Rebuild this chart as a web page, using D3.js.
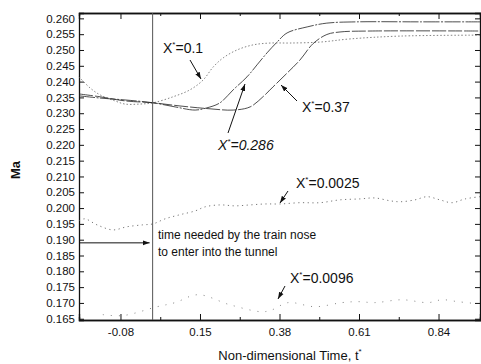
<!DOCTYPE html>
<html>
<head>
<meta charset="utf-8">
<script src="https://cdn.jsdelivr.net/npm/d3@7"></script>
<style>
  body { margin: 0; background: #fff; }
  text { font-family: "Liberation Sans", Arial, sans-serif; fill: #111; }
</style>
</head>
<body>
<svg id="chart" width="481" height="364"></svg>
<script>
// [t*, Ma]
var serie01 = [[-0.200,0.2415],[-0.168,0.2380],[-0.139,0.2358],[-0.096,0.2339],[-0.067,0.2329],[-0.024,0.2329],
  [0.014,0.2333],[0.072,0.2352],[0.121,0.2374],[0.159,0.2405],[0.188,0.2446],[0.217,0.2475],[0.257,0.2500],
  [0.303,0.2516],[0.353,0.2522],[0.410,0.2522],[0.497,0.2525],[0.584,0.2535],[0.729,0.2544],[0.960,0.2547]];
var serie0286 = [[-0.200,0.2355],[-0.139,0.2348],[-0.067,0.2342],[0.014,0.2333],[0.078,0.2320],[0.136,0.2310],
  [0.170,0.2317],[0.208,0.2333],[0.246,0.2374],[0.286,0.2415],[0.315,0.2453],[0.344,0.2491],[0.373,0.2525],
  [0.402,0.2554],[0.460,0.2573],[0.517,0.2585],[0.604,0.2589],[0.787,0.2589],[0.960,0.2589]];
var serie037 = [[-0.200,0.2361],[-0.139,0.2352],[-0.067,0.2339],[0.014,0.2333],[0.092,0.2323],[0.179,0.2314],
  [0.246,0.2310],[0.295,0.2320],[0.332,0.2352],[0.361,0.2383],[0.402,0.2427],[0.439,0.2468],[0.477,0.2520],
  [0.517,0.2549],[0.555,0.2557],[0.642,0.2560],[0.960,0.2560]];
var serie00025 = [[-0.200,0.1960],[-0.183,0.1966],[-0.148,0.1947],[-0.102,0.1931],[-0.061,0.1941],[-0.015,0.1947],
  [0.014,0.1950],[0.049,0.1966],[0.092,0.1979],[0.136,0.1991],[0.165,0.2004],[0.208,0.2010],[0.251,0.2007],
  [0.295,0.2010],[0.338,0.2013],[0.381,0.2013],[0.439,0.2017],[0.497,0.2017],[0.555,0.2026],[0.613,0.2029],
  [0.656,0.2032],[0.700,0.2023],[0.729,0.2020],[0.772,0.2026],[0.807,0.2036],[0.844,0.2026],[0.879,0.2017],
  [0.917,0.2029],[0.960,0.2036]];
var serie00096 = [[-0.131,0.1663],[-0.073,0.1660],[0.026,0.1688],[0.078,0.1701],[0.144,0.1726],[0.237,0.1694],
  [0.329,0.1672],[0.358,0.1678],[0.405,0.1701],[0.483,0.1688],[0.561,0.1701],[0.607,0.1704],[0.656,0.1701],
  [0.734,0.1710],[0.810,0.1701],[0.850,0.1710],[0.896,0.1704],[0.946,0.1698]];

var xTicks = [-0.08, 0.15, 0.38, 0.61, 0.84];
var xMinor = [0.035, 0.265, 0.495, 0.725];
var yTicks = d3.range(20).map(function(i) { return +(0.165 + i * 0.005).toFixed(3); });
var tEnter = 0.013;     // vertical line
var arrowMa = 0.189;

var svg = d3.select("#chart");
var x = d3.scaleLinear().domain([-0.2, 0.96]).range([79, 480]);
var y = d3.scaleLinear().domain([0.1646, 0.2617]).range([320, 13]);

var line = d3.line()
    .x(function(d) { return x(d[0]); })
    .y(function(d) { return y(d[1]); })
    .curve(d3.curveCatmullRom);

// axes
svg.append("g").attr("transform", "translate(79,0)")
    .call(d3.axisLeft(y).tickValues(yTicks).tickSize(-5).tickPadding(4).tickFormat(d3.format(".3f")));
svg.append("g").attr("transform", "translate(480,0)")
    .call(d3.axisRight(y).tickValues(yTicks).tickSize(-5).tickFormat(""));
svg.append("g").attr("transform", "translate(0,320)")
    .call(d3.axisBottom(x).tickValues(xTicks).tickSize(-6).tickPadding(8)
      .tickFormat(function(d) { return d.toFixed(2); }));
svg.append("g").attr("transform", "translate(0,320)")
    .call(d3.axisBottom(x).tickValues(xMinor).tickSize(-3).tickFormat(""));
svg.append("g").attr("transform", "translate(0,13)")
    .call(d3.axisTop(x).tickValues(xTicks).tickSize(-6).tickFormat(""));
svg.append("g").attr("transform", "translate(0,13)")
    .call(d3.axisTop(x).tickValues(xMinor).tickSize(-3).tickFormat(""));
svg.selectAll(".domain").attr("stroke", "#111").attr("stroke-width", 1.3);
svg.selectAll(".tick line").attr("stroke", "#111");
svg.selectAll(".tick text").style("font-family", "Liberation Sans, Arial, sans-serif")
    .style("font-size", "11.5px").attr("fill", "#111");

// curves
function curve(data, dash, color, w) {
  svg.append("path").datum(data).attr("d", line)
    .attr("fill", "none").attr("stroke", color).attr("stroke-width", w)
    .attr("stroke-dasharray", dash);
}
curve(serie01, "1.5,2", "#666", 0.8);
curve(serie0286, "16,1.5,2,1.5", "#222", 0.8);
curve(serie037, "14,2", "#222", 0.8);
curve(serie00025, "1.2,3.5", "#555", 0.8);
curve(serie00096, "1,7", "#666", 0.8);

// vertical line and arrow
svg.append("defs").append("marker").attr("id", "ah")
  .attr("viewBox", "0 0 10 10").attr("refX", 10).attr("refY", 5)
  .attr("markerWidth", 7).attr("markerHeight", 7).attr("orient", "auto-start-reverse")
  .append("path").attr("d", "M0,1.5 L10,5 L0,8.5 z").attr("fill", "#111");

svg.append("line").attr("x1", x(tEnter)).attr("x2", x(tEnter))
  .attr("y1", 13).attr("y2", 320).attr("stroke", "#555").attr("stroke-width", 1);
svg.append("line").attr("x1", 79).attr("x2", x(tEnter) - 3)
  .attr("y1", y(arrowMa)).attr("y2", y(arrowMa))
  .attr("stroke", "#111").attr("stroke-width", 1).attr("marker-end", "url(#ah)");

svg.append("text").attr("x", 158).attr("y", 239).style("font-size", "12px")
  .text("time needed by the train nose");
svg.append("text").attr("x", 158).attr("y", 256).style("font-size", "12px")
  .text("to enter into the tunnel");

// labels with arrows
function label(tx, ty, italic, val, ax1, ay1, ax2, ay2) {
  var t = svg.append("text").attr("x", tx).attr("y", ty).style("font-size", "14px");
  if (italic) t.style("font-style", "italic");
  t.append("tspan").text("X");
  t.append("tspan").attr("dy", -6).style("font-size", "8px").text("*");
  t.append("tspan").attr("dy", 6).text("=" + val);
  svg.append("line").attr("x1", ax1).attr("y1", ay1).attr("x2", ax2).attr("y2", ay2)
    .attr("stroke", "#111").attr("stroke-width", 1).attr("marker-end", "url(#ah)");
}
label(163, 53, false, "0.1", 190, 60, 201, 79);
label(218, 150, true, "0.286", 228, 133, 245, 84);
label(302, 112, false, "0.37", 297, 101, 281, 85);
label(296, 188, false, "0.0025", 288, 191, 280, 203);
label(290, 283, false, "0.0096", 285, 286, 278, 299);

// axis titles
svg.append("text").attr("transform", "translate(20,170) rotate(-90)")
  .attr("text-anchor", "middle").style("font-size", "13px").style("font-weight", "bold").text("Ma");
var xt = svg.append("text").attr("x", 290).attr("y", 360).attr("text-anchor", "middle")
  .style("font-size", "13px");
xt.append("tspan").text("Non-dimensional Time, t");
xt.append("tspan").attr("dy", -6).style("font-size", "8px").text("*");
</script>
</body>
</html>
